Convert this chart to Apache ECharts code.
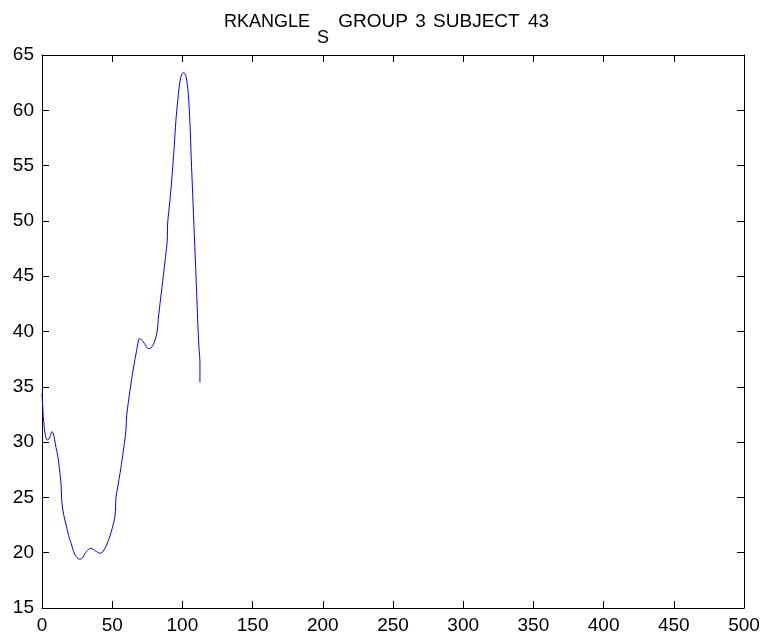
<!DOCTYPE html>
<html>
<head>
<meta charset="utf-8">
<script src="https://cdn.jsdelivr.net/npm/echarts@6/dist/echarts.min.js"></script>
<style>
html,body{margin:0;padding:0;background:#fff;}
#chart{width:765px;height:642px;}
</style>
</head>
<body>
<div id="chart"></div>
<script>
// Knee angle trace, sample index vs. angle
var frames = [0, 1, 2, 3, 3.8, 5, 6, 7.1, 8, 9, 10, 11.4, 12.5, 13.5, 14.2, 15.5, 17, 18.5, 19.5, 20.9, 21.8, 23.3, 25, 26.8, 28, 29.2, 30.4, 31.6, 33, 34.7, 36.5, 38, 39.4, 41.3, 43, 44.2, 46, 48.4, 50, 52, 52.7, 54, 55.6, 57.5, 59.1, 59.8, 60.3, 61.5, 62.7, 65, 67.4, 68.5, 69.3, 70.5, 72.2, 73.5, 75, 76.2, 77.4, 79, 80.5, 81.7, 82.4, 82.8, 84.5, 86.4, 88, 89.2, 89.5, 91, 92.4, 94, 95.4, 96.7, 97.8, 98.8, 99.7, 100.6, 101.6, 102.6, 103.4, 104.2, 105.4, 106.3, 107.3, 108.5, 109.7, 110.5, 111.3, 112, 112.5, 112.5];
var angles = [34.4, 32.2, 30.9, 30.3, 30.2, 30.3, 30.6, 30.95, 30.8, 30.2, 29.5, 28.6, 27.5, 26.3, 24.5, 23.4, 22.6, 21.8, 21.3, 20.8, 20.4, 19.85, 19.55, 19.42, 19.45, 19.6, 19.9, 20.1, 20.3, 20.38, 20.3, 20.15, 20.05, 19.95, 20.05, 20.25, 20.7, 21.5, 22.2, 23.3, 25.0, 26.0, 27.2, 28.8, 30.3, 31.1, 32.4, 33.6, 34.7, 36.6, 38.3, 39.05, 39.35, 39.3, 39.05, 38.8, 38.5, 38.45, 38.5, 38.75, 39.2, 39.8, 40.4, 41.1, 43.0, 45.0, 46.8, 48.2, 49.8, 51.7, 53.7, 56.4, 59.1, 60.9, 62.2, 62.95, 63.3, 63.4, 63.35, 63.05, 62.4, 61.5, 58.8, 55.6, 52.5, 48.7, 45.0, 42.3, 39.8, 38.2, 37.3, 35.4];
var xTicks = [0, 50, 100, 150, 200, 250, 300, 350, 400, 450, 500];
var yTicks = [15, 20, 25, 30, 35, 40, 45, 50, 55, 60, 65];

var points = frames.map(function (f, i) { return [f, angles[i]]; });

var chart = echarts.init(document.getElementById('chart'), null, { renderer: 'canvas' });
var font = 'Arial, "Liberation Sans", Helvetica, sans-serif';
var tickStyle = { show: true, inside: true, length: 7, lineStyle: { color: '#000', width: 1 } };
var axisLine = { show: true, onZero: false, lineStyle: { color: '#000', width: 1 } };

function seg(extra) {
  var base = { fontFamily: font, fontSize: 18, fontWeight: 'normal', color: '#000', lineHeight: 20, verticalAlign: 'top' };
  for (var k in extra) base[k] = extra[k];
  return base;
}

chart.setOption({
  animation: false,
  backgroundColor: '#fff',
  title: {
    // title with subscript S
    text: '{a|RKANGLE }{s|S}{b| GROUP }{d|3}{b| SUBJECT }{e|43}',
    left: 219,
    top: 7,
    textStyle: {
      fontWeight: 'normal',
      rich: {
        a: seg({ padding: [1, 0, 0, 0] }),
        s: seg({ padding: [17, 4, 0, 2] }),
        b: seg({ fontSize: 19 }),
        d: seg({ fontSize: 19, padding: [0, 2, 0, 2] }),
        e: seg({ fontSize: 19, padding: [0, 0, 0, 3] })
      }
    }
  },
  grid: { left: 42, right: 21, top: 55, bottom: 34, containLabel: false },
  xAxis: [{
    type: 'value', min: xTicks[0], max: xTicks[xTicks.length - 1], interval: 50,
    position: 'bottom', axisLine: axisLine, axisTick: tickStyle, splitLine: { show: false },
    axisLabel: { color: '#000', fontFamily: font, fontSize: 19, margin: 8 }
  }, {
    type: 'value', min: xTicks[0], max: xTicks[xTicks.length - 1], interval: 50,
    position: 'top', axisLine: axisLine, axisTick: tickStyle, splitLine: { show: false },
    axisLabel: { show: false }
  }],
  yAxis: [{
    type: 'value', min: yTicks[0], max: yTicks[yTicks.length - 1], interval: 5,
    position: 'left', axisLine: axisLine, axisTick: tickStyle, splitLine: { show: false },
    axisLabel: { color: '#000', fontFamily: font, fontSize: 19, margin: 8 }
  }, {
    type: 'value', min: yTicks[0], max: yTicks[yTicks.length - 1], interval: 5,
    position: 'right', axisLine: axisLine, axisTick: tickStyle, splitLine: { show: false },
    axisLabel: { show: false }
  }],
  series: [{
    type: 'line',
    data: points,
    xAxisIndex: 0, yAxisIndex: 0,
    showSymbol: false,
    smooth: 0.3,
    lineStyle: { color: '#0000ff', width: 1 },
    silent: true
  }]
});
</script>
</body>
</html>
